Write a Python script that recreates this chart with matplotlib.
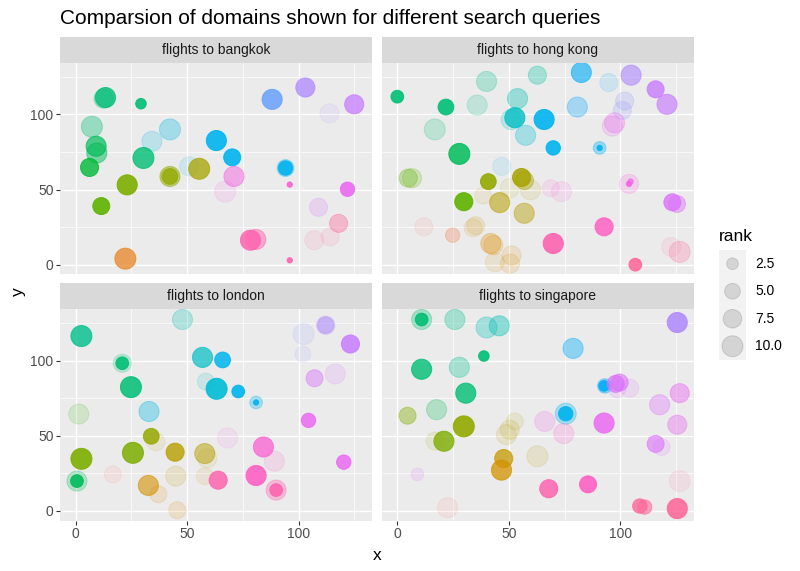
import numpy as np
import matplotlib
matplotlib.use("Agg")
import matplotlib.pyplot as plt

plt.rcParams["font.family"] = ["Liberation Sans", "DejaVu Sans"]

N_DOMAINS = 36
RANK_MIN, RANK_MAX = 1, 10

# ---- data ----------------------------------------------------------------
bkk_x = [13.4, 12.5, 29.3, 88.1, 103, 124.9, 113.8, 7.3, 42.3, 34.2, 63.1, 70.2, 9.2, 9.5, 6.25,
         30.4, 50.9, 55.4, 42.3, 42.3, 71, 67, 23.1, 11.5, 94.1, 94.1, 96, 121.9, 108.9, 117.9,
         114.1, 107, 78.4, 80.8, 22.3, 96]
bkk_y = [111.2, 110.5, 107.1, 110, 117.9, 106.7, 100.7, 91.8, 90, 82.1, 82.6, 71.4, 78.8, 74.3, 64.7,
         71, 65.4, 63.8, 58.7, 58.7, 58.7, 48.6, 53.1, 39, 64.3, 64.3, 53.3, 50.2, 38.2, 27.5,
         18.5, 16.3, 16.3, 16.8, 4, 2.9]
bkk_rank = [9, 8, 2, 9, 8, 8, 8, 10, 10, 9, 9, 6, 9, 9, 7,
            10, 8, 10, 9, 5, 9, 10, 9, 6, 4, 6, 1, 4, 7, 7,
            7, 8, 9, 9, 10, 1]
bkk_domain = [14, 14, 14, 24, 26, 27, 26, 14, 20, 20, 21, 21, 13, 13, 12,
              14, 20, 7, 8, 8, 30, 30, 9, 10, 21, 21, 31, 29, 28, 34,
              34, 34, 33, 33, 2, 33]
bkk_score = [.8, .3, .9, .8, .75, .75, .1, .35, .3, .2, .9, .9, .7, .5, .8,
             .8, .12, .75, .5, .8, .5, .12, .9, .9, .9, .3, .9, .9, .2, .4,
             .12, .12, .85, .5, .75, .9]

hkg_x = [0, 21.8, 40, 62.8, 82.5, 94.8, 104.8, 115.8, 120.9, 35.8, 53.9, 51, 52.7, 65.8, 80.7,
         101.9, 100.9, 97.4, 96.4, 16.8, 57.5, 69.9, 90.7, 90.7, 27.8, 46.8, 4.9, 6.6, 40.8, 55.7,
         57, 59.7, 50.4, 38.5, 68.8, 73.6, 103.9, 103.9, 104.6, 29.8, 45.9, 56.9, 123.3, 125.4, 11.9,
         24.8, 35.1, 34, 41.9, 43, 51.2, 50.5, 43.7, 69.9, 92.7, 106.7, 126.6, 122.8]
hkg_y = [111.8, 104.9, 121.9, 126.1, 127.9, 121.2, 126.1, 116.7, 106.7, 106.2, 110.5, 96.5, 97.8, 96.6, 104.9,
         108.9, 102.7, 94.4, 92.2, 90, 86.1, 77.7, 77.7, 77.7, 73.7, 65.4, 57.6, 57.6, 55.3, 58,
         56, 49.8, 50.9, 46, 50.9, 48.6, 53.8, 53.8, 55.3, 41.9, 41.3, 34.2, 41.5, 40.4, 25.2,
         19.6, 25.9, 24.5, 14.1, 13, 6.2, 0.7, 1.6, 14.1, 25.2, 0, 8.5, 11.8]
hkg_rank = [3, 5, 9, 7, 9, 7, 9, 6, 9, 9, 9, 9, 9, 9, 9,
            7, 7, 9, 9, 10, 9, 4, 1, 3, 10, 7, 7, 8, 5, 7,
            7, 9, 8, 6, 6, 9, 8, 1, 1, 7, 9, 9, 6, 6, 7,
            4, 7, 7, 9, 8, 8, 8, 8, 9, 7, 3, 10, 8]
hkg_domain = [14, 14, 15, 16, 22, 23, 26, 27, 27, 15, 17, 18, 18, 21, 23,
              25, 25, 29, 29, 14, 19, 21, 21, 21, 13, 21, 10, 10, 8, 7,
              7, 6, 6, 5, 31, 31, 30, 30, 30, 10, 6, 6, 28, 28, 0,
              1, 4, 4, 3, 3, 4, 3, 4, 33, 32, 34, 34, 34]
hkg_score = [.9, .9, .25, .3, .6, .12, .6, .8, .65, .18, .35, .2, .8, .9, .3,
             .2, .2, .3, .2, .2, .3, .9, .9, .35, .85, .1, .3, .2, .9, .85,
             .4, .12, .1, .1, .12, .12, .2, .9, .7, .9, .55, .45, .8, .45, .1,
             .3, .15, .12, .3, .2, .15, .15, .12, .9, .85, .9, .25, .1]

lhr_x = [47.9, 2.6, 20.9, 20.9, 24.8, 56.9, 65.9, 58.4, 63.2, 72.9, 80.9, 80.9, 102.2, 101.9, 112.1,
         112.1, 123.2, 107.1, 116.4, 1.4, 32.9, 104.4, 33.9, 36, 68.1, 25.7, 2.6, 44.6, 57.9, 59,
         84.2, 89.1, 120.2, 0.6, 0.6, 16.7, 32.6, 37.1, 44.9, 45.6, 57.9, 63.9, 80.9, 89.9, 89.9]
lhr_y = [127.4, 116.4, 98.3, 98.3, 82.4, 102.2, 100.5, 86.1, 81.3, 79.5, 72.2, 72.2, 117.7, 104.4, 123.6,
         123.6, 111.1, 88.3, 91.2, 64.5, 66.2, 60.3, 49.7, 46, 48.6, 38.7, 34.7, 39.1, 38.2, 35,
         42.6, 33.1, 32.5, 19.9, 19.9, 24.3, 17, 11.1, 23.2, 0.5, 23.2, 20.5, 23.6, 13.9, 13.9]
lhr_rank = [9, 10, 7, 3, 10, 9, 5, 6, 10, 3, 3, 1, 10, 5, 7,
            5, 7, 6, 9, 9, 9, 4, 5, 7, 9, 10, 10, 7, 9, 8,
            9, 9, 4, 9, 3, 6, 9, 6, 9, 6, 6, 7, 9, 9, 3]
lhr_domain = [17, 15, 14, 14, 14, 18, 21, 18, 19, 21, 21, 21, 25, 25, 26,
              26, 27, 28, 28, 11, 20, 29, 8, 5, 30, 9, 9, 6, 6, 6,
              31, 32, 29, 13, 13, 0, 4, 3, 5, 3, 4, 33, 32, 33, 33]
lhr_score = [.25, .8, .2, .9, .85, .7, .85, .15, .9, .9, .3, .9, .12, .1, .35,
             .35, .85, .45, .15, .15, .35, .85, .85, .1, .1, .85, .9, .8, .5, .1,
             .75, .15, .85, .25, .9, .1, .6, .15, .15, .15, .1, .85, .9, .35, .9]

sin_x = [10.9, 10.9, 25.8, 40, 45.7, 38.8, 78.8, 125.5, 10.9, 27.8, 30.7, 92.7, 93, 97.9, 99.7,
         104.2, 98.5, 117.6, 126.6, 125.5, 115.8, 118.5, 92.7, 75.5, 75.5, 66.1, 74.6, 4.6, 17.6, 29.8,
         20.9, 17, 48.9, 50.4, 52.7, 47.7, 46.7, 62.8, 9, 22.5, 67.9, 85.5, 108.7, 110.9, 125.5, 126.6]
sin_y = [127.4, 127.4, 127.4, 122.1, 123.2, 103.1, 108.2, 125.4, 94.3, 95.6, 78.4, 83.2, 83.2, 84.6, 85.5,
         81.7, 81, 70.7, 78.4, 57.4, 44.6, 42.5, 58.5, 64.7, 64.7, 59.6, 51.5, 63.4, 67.4, 56.3,
         46.4, 46.5, 50.8, 54.1, 59.6, 34.9, 27.2, 36.4, 24.3, 2.2, 14.8, 17.7, 3.3, 2.6, 1.6, 19.9]
sin_rank = [9, 3, 9, 10, 9, 2, 9, 9, 9, 9, 9, 2, 4, 6, 6,
            7, 6, 9, 8, 8, 6, 6, 9, 10, 4, 9, 9, 6, 9, 10,
            9, 7, 9, 8, 6, 7, 9, 10, 3, 9, 7, 6, 4, 4, 9, 10]
sin_domain = [14, 14, 15, 17, 17, 14, 22, 26, 14, 15, 14, 22, 22, 28, 28,
              28, 28, 28, 29, 29, 28, 28, 29, 21, 21, 30, 31, 9, 13, 8,
              9, 8, 6, 6, 6, 5, 4, 6, 28, 0, 33, 32, 34, 34, 34, 34]
sin_score = [.3, .9, .3, .3, .4, .9, .4, .85, .8, .3, .8, .9, .4, .7, .6,
             .15, .15, .35, .45, .4, .6, .15, .85, .3, .9, .2, .2, .4, .25, .9,
             .8, .12, .15, .15, .12, .75, .75, .15, .15, .1, .85, .9, .8, .6, .9, .1]

panel_titles = ["flights to bangkok", "flights to hong kong", "flights to london", "flights to singapore"]
legend_ranks = [2.5, 5.0, 7.5, 10.0]


def hue_pal(n, lum=65, chroma=100, h0=15):
    h = np.deg2rad(h0 + 360 * np.arange(n) / n)
    u = chroma * np.cos(h)
    v = chroma * np.sin(h)
    xn, yn, zn = 95.047, 100.0, 108.883
    un = 4 * xn / (xn + 15 * yn + 3 * zn)
    vn = 9 * yn / (xn + 15 * yn + 3 * zn)
    yy = yn * ((lum + 16) / 116) ** 3
    up = u / (13 * lum) + un
    vp = v / (13 * lum) + vn
    xx = yy * 9 * up / (4 * vp)
    zz = yy * (12 - 3 * up - 20 * vp) / (4 * vp)
    xyz = np.stack([xx, np.full_like(xx, yy), zz], axis=1) / 100
    m = np.array([[3.2404542, -1.5371385, -0.4985314],
                  [-0.9692660, 1.8760108, 0.0415560],
                  [0.0556434, -0.2040259, 1.0572252]])
    rgb = np.clip(xyz @ m.T, 0, None)
    rgb = np.where(rgb <= 0.0031308, 12.92 * rgb, 1.055 * rgb ** (1 / 2.4) - 0.055)
    return np.clip(rgb, 0, 1)


def rank_to_area(rank):
    # ggplot-like area scale, size range 1..6; minus 1px that the edge adds back
    r = np.asarray(rank, dtype=float)
    size = 1 + 5 * np.sqrt((r - RANK_MIN) / (RANK_MAX - RANK_MIN))
    diam_px = 3.14 * size + 2.15
    return (diam_px * 0.72) ** 2


palette = hue_pal(N_DOMAINS)

fig = plt.figure(figsize=(8, 5.71), dpi=100)
W, H = 800, 571

panels = [
    (bkk_x, bkk_y, bkk_rank, bkk_domain, bkk_score),
    (hkg_x, hkg_y, hkg_rank, hkg_domain, hkg_score),
    (lhr_x, lhr_y, lhr_rank, lhr_domain, lhr_score),
    (sin_x, sin_y, sin_rank, sin_domain, sin_score),
]
lefts = [60, 381.7]
tops = [63, 309.3]
pw, ph, sh = 312.3, 211.3, 26

for i, (xs, ys, rk, dom, sc) in enumerate(panels):
    col, row = i % 2, i // 2
    l, t = lefts[col], tops[row]
    ax = fig.add_axes([l / W, 1 - (t + ph) / H, pw / W, ph / H])
    ax.set_facecolor("#EBEBEB")
    for s in ax.spines.values():
        s.set_visible(False)
    ax.set_xlim(-7.0, 133.0)
    ax.set_ylim(-6.4, 134.2)
    ax.set_xticks([0, 50, 100])
    ax.set_yticks([0, 50, 100])
    ax.set_xticks([25, 75, 125], minor=True)
    ax.set_yticks([25, 75, 125], minor=True)
    ax.grid(True, which="major", color="white", linewidth=0.95)
    ax.grid(True, which="minor", color="white", linewidth=0.5)
    ax.set_axisbelow(True)
    ax.tick_params(which="minor", length=0)
    ax.tick_params(which="major", length=2.6, width=0.8, color="#333333",
                   labelsize=10, labelcolor="#4D4D4D", pad=2)
    if col == 1:
        ax.tick_params(axis="y", left=False, labelleft=False)
    if row == 0:
        ax.tick_params(axis="x", bottom=False, labelbottom=False)

    colors = np.column_stack([palette[np.asarray(dom)], np.asarray(sc)])
    ax.scatter(xs, ys, s=rank_to_area(rk), c=colors, edgecolors=colors,
               linewidths=0.72, zorder=3)

    sax = fig.add_axes([l / W, 1 - t / H, pw / W, sh / H])
    sax.set_facecolor("#D9D9D9")
    sax.set_xticks([])
    sax.set_yticks([])
    for s in sax.spines.values():
        s.set_visible(False)
    sax.text(0.5, 0.5, panel_titles[i], ha="center", va="center",
             fontsize=10, color="#1A1A1A", transform=sax.transAxes)

fig.text(60 / W, 1 - 24 / H, "Comparsion of domains shown for different search queries",
         fontsize=15, color="black", ha="left", va="baseline")
fig.text(377 / W, 1 - 555 / H, "x", fontsize=12.5, ha="center", va="center")
fig.text(18 / W, 1 - 292 / H, "y", fontsize=12.5, ha="center", va="center", rotation=90)

# legend
fig.text(719 / W, 1 - 241 / H, "rank", fontsize=12.5, ha="left", va="baseline")
lax = fig.add_axes([719.3 / W, 1 - 360 / H, 26.4 / W, 110 / H])
lax.set_facecolor("#F2F2F2")
lax.set_xlim(0, 1)
lax.set_ylim(len(legend_ranks), 0)
lax.set_xticks([])
lax.set_yticks([])
for s in lax.spines.values():
    s.set_visible(False)
ky = np.arange(len(legend_ranks)) + 0.5
key_col = [(0, 0, 0, 0.12)] * len(legend_ranks)
lax.scatter(np.full(len(legend_ranks), 0.5), ky, s=rank_to_area(legend_ranks),
            c=key_col, edgecolors=key_col, linewidths=0.72)
for k, r in zip(ky, legend_ranks):
    fig.text(755 / W, 1 - (250 + k * 27.5) / H, f"{r:.1f}", fontsize=10,
             color="black", ha="left", va="center")

fig.savefig("out.png", dpi=100)
